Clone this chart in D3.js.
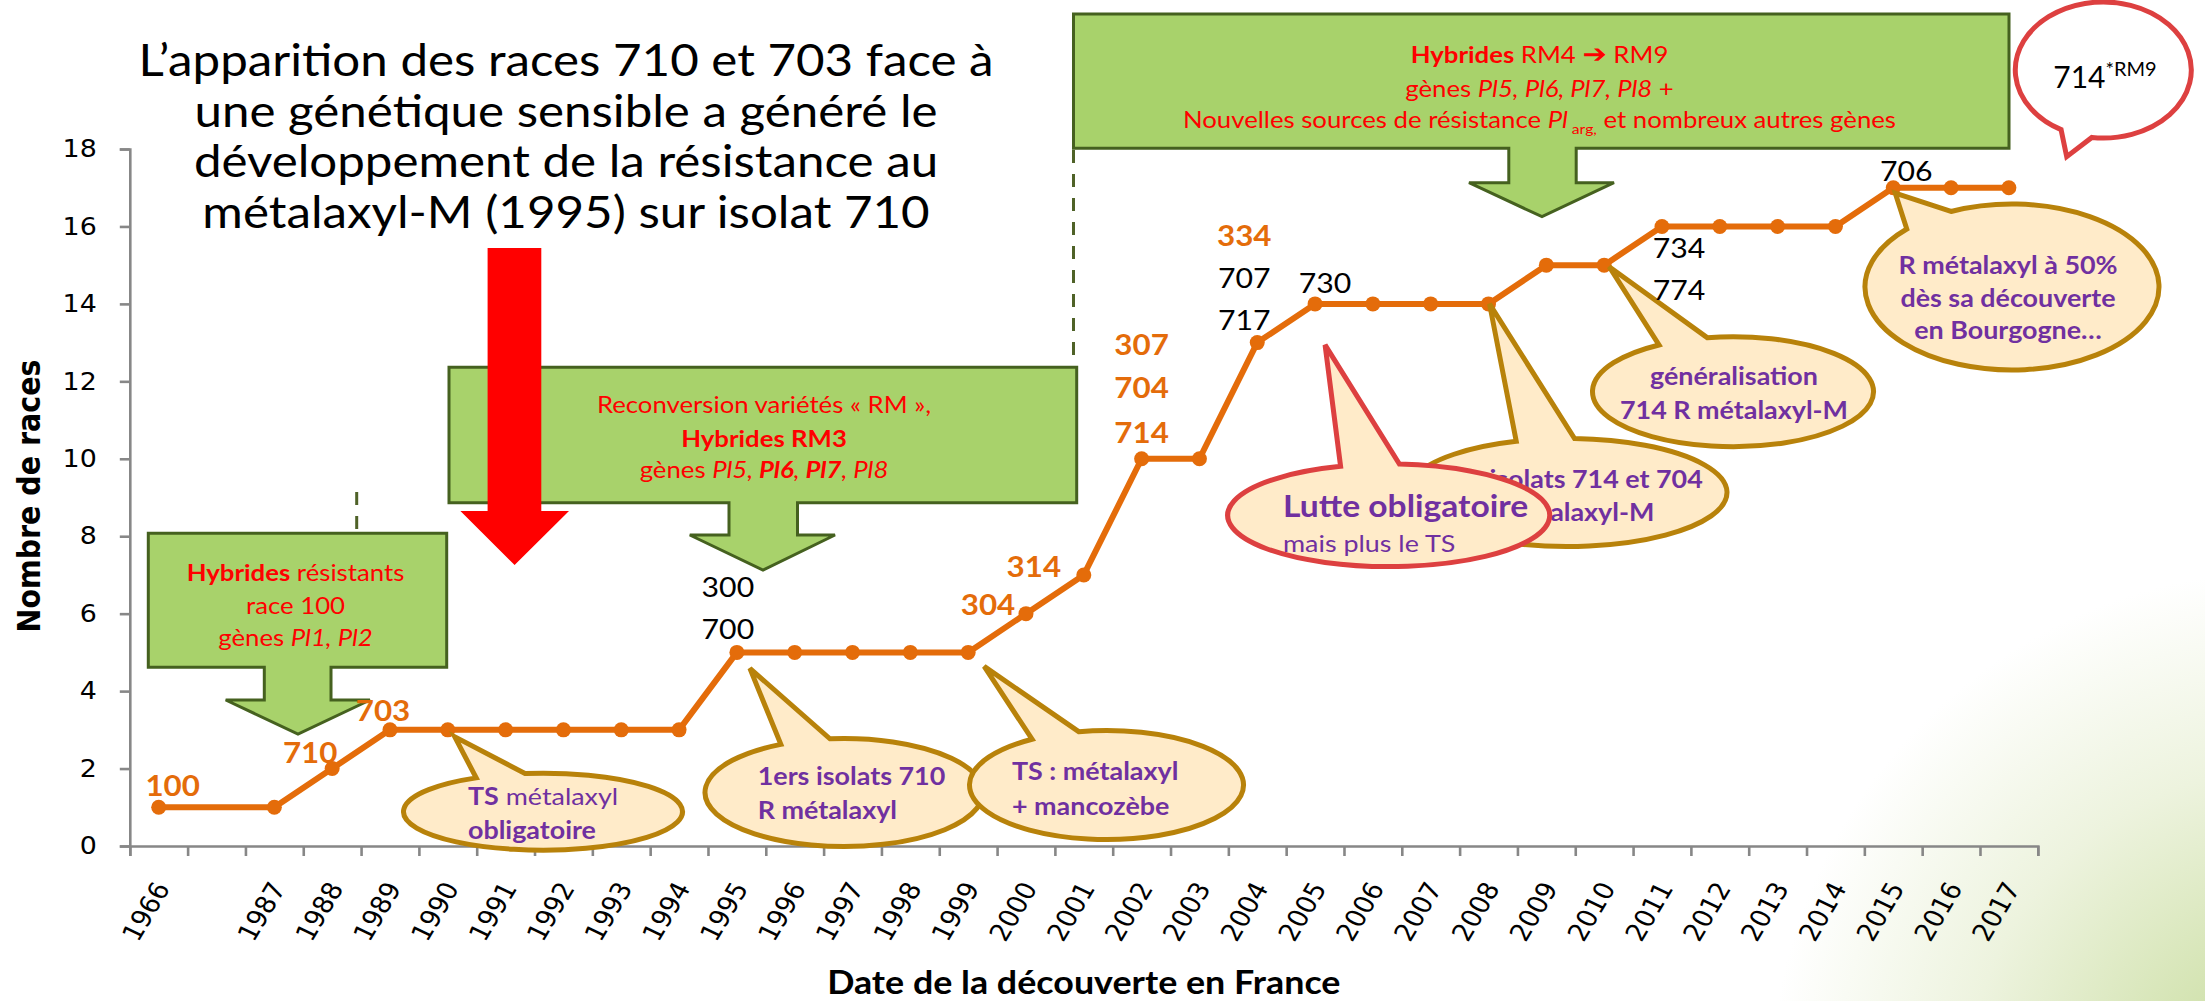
<!DOCTYPE html>
<html><head><meta charset="utf-8">
<script src="https://cdnjs.cloudflare.com/ajax/libs/d3/7.8.5/d3.min.js"></script>
<style>body{margin:0;background:#fff;} svg{display:block;}</style>
</head><body>
<svg id="chart" width="2205" height="1001"></svg>
<script>
// ---------------- DATA ----------------
const categories = ["1966","","1987","1988","1989","1990","1991","1992","1993","1994","1995","1996","1997","1998","1999",
  "2000","2001","2002","2003","2004","2005","2006","2007","2008","2009","2010","2011","2012","2013","2014","2015","2016","2017"];
const raceCounts = [1,null,1,2,3,3,3,3,3,3,5,5,5,5,5,6,7,10,10,13,14,14,14,14,15,15,16,16,16,16,17,17,17];
const yTicks = [0,2,4,6,8,10,12,14,16,18];
const yTitle = "Nombre de races";
const xTitle = "Date de la découverte en France";
const titleLines = ["L\u2019apparition des races 710 et 703 face à","une génétique sensible a généré le",
  "développement de la résistance au","métalaxyl-M (1995) sur isolat 710"];
// race labels: year, text, kind (new = orange bold, other = black)
const labelYears = ["1966","1988","1989","1995","1995","2000","2001","2002","2002","2002","2004","2004","2004","2005","2011","2011","2015"];
const labelTexts = ["100","710","703","300","700","304","314","307","704","714","334","707","717","730","734","774","706"];
const labelKinds = ["new","new","new","other","other","new","new","new","new","new","new","other","other","other","other","other","other"];

// ---------------- LAYOUT ----------------
const labelOffsets = [[14,-22],[-22,-16],[-7,-20],[-9,-66],[-9,-24],[-38,-9],[-50,-9],[0,-115],[0,-72],[0,-27],
  [-13,-107],[-13,-65],[-13,-23],[10,-21],[17,21],[17,63],[13,-17]];
const plot = {left:129.8, right:2037.8, top:149, bottom:846};
const SX = 1.12; // horizontal text stretch of the original picture
const ORANGE = "#E46C0A", PURPLE = "#7030A0", RED = "#FF0000", GOLD = "#B8820A", BUBBLE = "#FFEBC9",
      GREEN = "#A8D26B", GREEN_D = "#45611F", AXIS = "#878787", RED_B = "#DD4040";
const CAL = "Lato, 'Open Sans', sans-serif";
const VER = "'DejaVu Sans', Verdana, sans-serif";

const svg = d3.select("#chart");
const defs = svg.append("defs");
const grad = defs.append("radialGradient").attr("id","bg").attr("gradientUnits","userSpaceOnUse")
  .attr("cx",2290).attr("cy",1090).attr("r",520);
[[0,"#C4D998"],[0.28,"#D6E5B6"],[0.62,"#EDF3DE"],[1,"#FFFFFF"]].forEach(s =>
  grad.append("stop").attr("offset",s[0]).attr("stop-color",s[1]));
svg.append("rect").attr("width",2205).attr("height",1001).attr("fill","#fff");
svg.append("rect").attr("x",1600).attr("y",450).attr("width",605).attr("height",551).attr("fill","url(#bg)");

// scales
const x = d3.scaleBand().domain(categories).range([plot.left, plot.right]).padding(0);
const xEdge = d3.scaleLinear().domain([0, categories.length]).range([plot.left, plot.right]);
const y = d3.scaleLinear().domain([0,18]).range([plot.bottom, plot.top]);
const px = c => x(c) + x.bandwidth()/2;
const valueOf = c => raceCounts[categories.indexOf(c)];
const pt = c => [px(c), y(valueOf(c))];

// rich text helper
function richText(g, xPos, baseY, lines, opt) {
  lines.forEach((segs, li) => {
    const t = g.append("text").attr("transform", `translate(${xPos},${baseY[li]}) scale(${SX},1)`)
      .attr("text-anchor", opt.anchor || "middle").attr("fill", opt.color)
      .attr("font-family", CAL).attr("font-size", (opt.sizes ? opt.sizes[li] : opt.size));
    let shifted = 0;
    segs.forEach(s => {
      const ts = t.append("tspan").text(s.t);
      if (s.b) ts.attr("font-weight", 700);
      if (s.i) ts.attr("font-style", "italic");
      if (s.f) ts.attr("font-family", s.f);
      if (s.fs) ts.attr("font-size", s.fs);
      if (s.sub) { ts.attr("font-size", 14).attr("dy", 6); shifted = 6; }
      else if (shifted) { ts.attr("dy", -shifted); shifted = 0; }
      if (s.b === undefined && opt.bold) ts.attr("font-weight", 700);
    });
  });
}

// green down-arrow callout boxes
function greenCallout(b) {
  const p = `M${b.L},${b.T}H${b.R}V${b.B}H${b.sr}V${b.hb}H${b.hr}L${b.tx},${b.ty}L${b.hl},${b.hb}H${b.sl}V${b.B}H${b.L}Z`;
  svg.append("path").attr("d", p).attr("fill", GREEN).attr("stroke", GREEN_D).attr("stroke-width", 3).attr("stroke-linejoin","miter");
}
const box1 = {L:148.3,R:446.7,T:533.3,B:667.3,sl:264.3,sr:331,hb:700,hl:225.7,hr:370,tx:298,ty:734};
const box2 = {L:449,R:1076.7,T:367.3,B:502.7,sl:729,sr:797.5,hb:535,hl:689.8,hr:835,tx:763,ty:570};
const box3 = {L:1073.5,R:2009,T:14,B:148.3,sl:1508.8,sr:1576.2,hb:182.7,hl:1469,hr:1614,tx:1542,ty:216.7};

// dashed separators
[[356.7,492,533],[1073.5,150,366]].forEach(d => {
  svg.append("line").attr("x1",d[0]).attr("x2",d[0]).attr("y1",d[1]).attr("y2",d[2])
    .attr("stroke","#4F6228").attr("stroke-width",3).attr("stroke-dasharray","13 11");
});

greenCallout(box1); greenCallout(box2); greenCallout(box3);
const gb = svg.append("g");
richText(gb, 295.5, [580.7,614,646], [
  [{t:"Hybrides",b:1},{t:" résistants"}],
  [{t:"race 100"}],
  [{t:"gènes "},{t:"Pl1, Pl2",i:1}]], {color:RED, size:23});
richText(gb, 764, [413.3,446.7,478.3], [
  [{t:"Reconversion variétés « RM »,"}],
  [{t:"Hybrides RM3",b:1}],
  [{t:"gènes "},{t:"Pl5, ",i:1},{t:"Pl6",i:1,b:1},{t:", ",i:1},{t:"Pl7",i:1,b:1},{t:", ",i:1},{t:"Pl8",i:1}]], {color:RED, size:23});
richText(gb, 1539.5, [63.3,97.3,128.3], [
  [{t:"Hybrides",b:1},{t:" RM4 "},{t:"➔",b:1,f:VER,fs:26},{t:" RM9"}],
  [{t:"gènes "},{t:"Pl5, Pl6, Pl7, Pl8",i:1},{t:" +"}],
  [{t:"Nouvelles sources de résistance "},{t:"Pl",i:1},{t:" arg,",sub:1},{t:" et nombreux autres gènes"}]], {color:RED, size:23});

// red arrow
svg.append("path").attr("d","M487.6,248H541.3V511H569L514.6,565L460.4,511H487.6Z").attr("fill","#FF0000");

// axes
const yAxis = d3.axisLeft(y).tickValues(yTicks).tickSize(10).tickSizeOuter(10).tickPadding(0).tickFormat(d3.format("d"));
const gy = svg.append("g").attr("transform",`translate(${plot.left},0)`).call(yAxis);
gy.selectAll(".tick text").attr("x",null).attr("transform","translate(-33,0) scale(" + SX + ",1)")
  .attr("font-family",VER).attr("font-size",24).attr("fill","#000");
const xTickAxis = d3.axisBottom(xEdge).tickValues(d3.range(categories.length+1)).tickSize(10).tickSizeOuter(10).tickFormat("");
const gx = svg.append("g").attr("transform",`translate(0,${plot.bottom})`).call(xTickAxis);
const xLabAxis = d3.axisBottom(x).tickSize(0).tickFormat(d => d);
const gxl = svg.append("g").attr("transform",`translate(0,${plot.bottom})`).call(xLabAxis);
gxl.select(".domain").remove();
gxl.selectAll("text").attr("font-family",VER).attr("font-size",24.5).attr("fill","#000")
  .attr("text-anchor","end").attr("dy",0).attr("y",0)
  .attr("transform",`translate(12,42) scale(${SX},1) rotate(-62)`);
[gy, gx].forEach(g => { g.selectAll("line,path").attr("stroke",AXIS).attr("stroke-width",2.6); });

// series
const pts = categories.map((c,i)=>({c, v:raceCounts[i]})).filter(d => d.v !== null);
svg.append("path").datum(pts).attr("fill","none").attr("stroke",ORANGE).attr("stroke-width",6)
  .attr("stroke-linejoin","round")
  .attr("d", d3.line().x(d=>px(d.c)).y(d=>y(d.v)));
svg.append("g").selectAll("circle").data(pts).join("circle")
  .attr("cx", d=>px(d.c)).attr("cy", d=>y(d.v)).attr("r",7.5).attr("fill",ORANGE);

// speech bubbles
function calloutPath(cx, cy, rx, ry, tx, ty, da=0.185) {
  const a = Math.atan2((ty-cy)/ry, (tx-cx)/rx);
  const p1 = [cx + rx*Math.cos(a-da), cy + ry*Math.sin(a-da)];
  const p2 = [cx + rx*Math.cos(a+da), cy + ry*Math.sin(a+da)];
  return `M${p2}A${rx},${ry} 0 1 1 ${p1}L${tx},${ty}Z`;
}
function bubble(b) {
  const g = svg.append("g");
  g.append("path").attr("d", calloutPath(b.cx,b.cy,b.rx,b.ry,b.tip[0],b.tip[1]))
    .attr("fill", b.fill || BUBBLE).attr("stroke", b.stroke || GOLD).attr("stroke-width", 5).attr("stroke-linejoin","miter");
  richText(g, b.tx, b.ty, b.lines, {color:PURPLE, size:b.size||24, sizes:b.sizes, anchor:b.anchor, bold:b.bold});
}
const add = (p, d) => [p[0]+d[0], p[1]+d[1]];
const bubbles = [
  {cx:543, cy:811.7, rx:139.5, ry:38.5, tip:add(pt("1990"),[7,7]), anchor:"start", tx:468, ty:[805,839],
    lines:[[{t:"TS",b:1},{t:" métalaxyl",b:0}],[{t:"obligatoire",b:1}]]},
  {cx:844, cy:792.5, rx:139, ry:54, tip:add(pt("1995"),[13,16]), anchor:"start", tx:757.7, ty:[785,819], bold:true,
    lines:[[{t:"1ers isolats 710"}],[{t:"R métalaxyl"}]]},
  {cx:1106.5, cy:785, rx:137, ry:54.5, tip:add(pt("1999"),[16,14]), anchor:"start", tx:1012, ty:[780,815], bold:true,
    lines:[[{t:"TS : métalaxyl"}],[{t:"+ mancozèbe"}]]},
  {cx:1567, cy:492.5, rx:160, ry:54, tip:add(pt("2008"),[1,0]), anchor:"middle", tx:1567, ty:[488,521], bold:true,
    lines:[[{t:"1ers isolats 714 et 704"}],[{t:"R métalaxyl-M"}]]},
  {cx:1388.7, cy:515.3, rx:161, ry:51.3, tip:add(pt("2005"),[10,41]), stroke:RED_B, anchor:"start", tx:1283, ty:[517,552],
    sizes:[30,24], lines:[[{t:"Lutte obligatoire",b:1}],[{t:"mais plus le TS",b:0}]]},
  {cx:1733, cy:391.7, rx:140.5, ry:55, tip:add(pt("2010"),[5,1.5]), anchor:"middle", tx:1734, ty:[385,419], bold:true,
    lines:[[{t:"généralisation"}],[{t:"714 R métalaxyl-M"}]]},
  {cx:2012, cy:287, rx:147, ry:83, tip:add(pt("2015"),[2,5.5]), anchor:"middle", tx:2008, ty:[274,307,339], bold:true,
    lines:[[{t:"R métalaxyl à 50%"}],[{t:"dès sa découverte"}],[{t:"en Bourgogne…"}]]}
];
bubbles.forEach(bubble);

// 714*RM9 bubble
const gr = svg.append("g");
gr.append("path").attr("d", calloutPath(2103.3,70,88,68,2066.7,156.7)).attr("fill","#fff").attr("stroke",RED_B).attr("stroke-width",5);
const tr = gr.append("text").attr("transform","translate(2105,88)").attr("text-anchor","middle").attr("font-family",CAL).attr("fill","#000");
tr.append("tspan").attr("font-size",30).text("714");
tr.append("tspan").attr("font-size",20).attr("dy",-12).text("*RM9");

// race labels
svg.append("g").selectAll("text").data(labelTexts).join("text")
  .attr("transform", (d,i) => `translate(${px(labelYears[i]) + labelOffsets[i][0]},${y(valueOf(labelYears[i])) + labelOffsets[i][1]}) scale(${SX},1)`)
  .attr("dominant-baseline","central").attr("text-anchor","middle")
  .attr("font-family", CAL).attr("font-size", (d,i)=> labelKinds[i]==="new" ? 28 : 27)
  .attr("font-weight", (d,i)=> labelKinds[i]==="new" ? 700 : 400)
  .attr("fill", (d,i)=> labelKinds[i]==="new" ? ORANGE : "#000")
  .text(d => d);

// titles
svg.append("text").attr("transform",`translate(40,496) scale(${SX},1) rotate(-90)`).attr("text-anchor","middle")
  .attr("font-family",VER).attr("font-weight",700).attr("font-size",28.5).text(yTitle);
svg.append("text").attr("transform",`translate(${(plot.left+plot.right)/2},994) scale(${SX},1)`).attr("text-anchor","middle")
  .attr("font-family",CAL).attr("font-weight",700).attr("font-size",32).text(xTitle);
svg.append("g").selectAll("text").data(titleLines).join("text")
  .attr("transform",(d,i)=>`translate(566,${76 + i*50.7}) scale(${SX},1)`).attr("text-anchor","middle")
  .attr("font-family",CAL).attr("font-size",44).attr("fill","#000").text(d=>d);
</script>
</body></html>
